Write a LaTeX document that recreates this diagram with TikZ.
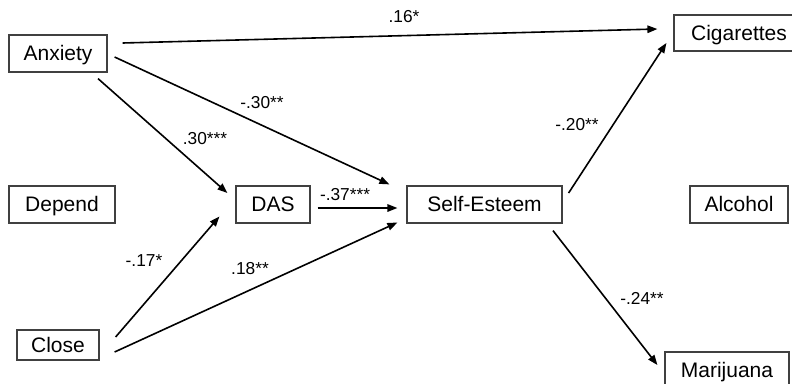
\documentclass[tikz,border=0pt]{standalone}
\usepackage{fontspec}
\setmainfont{Liberation Sans}
\usetikzlibrary{arrows.meta,calc}

\tikzset{
  varbox/.style={draw=black!75, line width=1.2pt, inner sep=0pt,
    font=\fontsize{21}{24}\selectfont, text height=16pt, text depth=1.6pt},
  path/.style={draw=black, line width=1.6pt,
    -{Triangle[length=10pt,width=7.5pt]}},
  coef/.style={inner sep=0pt, font=\fontsize{17.3}{20}\selectfont}
}

\begin{document}
\begin{tikzpicture}[x=1pt,y=-1pt]
  \useasboundingbox (0,0) rectangle (792,383);

  % variables
  \node[varbox, minimum width=98pt,  minimum height=37pt] (anx)  at (58,53.5)   {Anxiety};
  \node[varbox, minimum width=106pt, minimum height=37pt] (dep)  at (62,204.5)  {Depend};
  \node[varbox, minimum width=82pt,  minimum height=30pt] (clo)  at (58,345)    {Close};
  \node[varbox, minimum width=74pt,  minimum height=37pt] (das)  at (273,204.5) {DAS};
  \node[varbox, minimum width=155pt, minimum height=37pt] (se)   at (484.5,204.5) {Self-Esteem};
  \node[varbox, minimum width=98pt,  minimum height=37pt] (alc)  at (739,204.5) {Alcohol};
  \node[varbox, minimum width=130pt, minimum height=36pt] (cig)  at (739,33)    {Cigarettes};
  \node[varbox, minimum width=124pt, minimum height=37pt] (mar)  at (727,370.5) {Marijuana};

  % paths
  \draw[path] ($(anx.east)+(15,-10.5)$) -- ($(cig.west)+(-16,-4)$);
  \draw[path] ($(anx.east)+(7,3.5)$)    -- ($(se.north west)+(-17,-1)$);
  \draw[path] ($(anx.south)+(40,6)$)    -- ($(das.west)+(-8,-11.5)$);
  \draw[path] ($(das.east)+(7,3.5)$)    -- ($(se.west)+(-9,3.5)$);
  \draw[path] ($(clo.east)+(16,-8)$)    -- ($(das.west)+(-16,12)$);
  \draw[path] ($(clo.east)+(15,7)$)     -- ($(se.west)+(-9,18)$);
  \draw[path] ($(se.east)+(6,-11.5)$)   -- ($(cig.west)+(-7,10)$);
  \draw[path] ($(se.south)+(68.5,7)$)   -- ($(mar.west)+(-7,-5.5)$);

  % path coefficients
  \node[coef] (c1) at (404,17)  {.16*};
  \node[coef] (c2) at (262,103) {-.30**};
  \node[coef] (c3) at (205,139) {.30***};
  \node[coef] (c4) at (345,195) {-.37***};
  \node[coef] (c5) at (144,261) {-.17*};
  \node[coef] (c6) at (250,269) {.18**};
  \node[coef] (c7) at (577,125) {-.20**};
  \node[coef] (c8) at (642,298) {-.24**};
\end{tikzpicture}
\end{document}
